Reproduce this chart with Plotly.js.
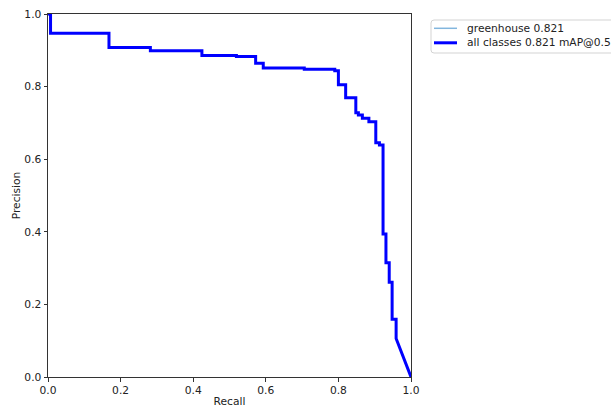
<!DOCTYPE html>
<html>
<head>
<meta charset="utf-8">
<script src="https://cdn.plot.ly/plotly-3.0.1.min.js"></script>
<style>html,body{margin:0;padding:0;background:#fff;}#chart{width:611px;height:408px;}</style>
</head>
<body>
<div id="chart"></div>
<script>
// Step breakpoints of the PR curve: at recall[i] precision drops to precision[i]
const recall = [0, 0.007, 0.168, 0.282, 0.424, 0.519, 0.572, 0.593, 0.706, 0.790, 0.800, 0.820, 0.848, 0.855, 0.866, 0.884, 0.903, 0.913, 0.923, 0.931, 0.940, 0.948, 0.959, 1.0];
const precision = [1.0, 0.947, 0.908, 0.899, 0.886, 0.883, 0.864, 0.851, 0.848, 0.844, 0.805, 0.769, 0.728, 0.722, 0.713, 0.703, 0.645, 0.639, 0.394, 0.315, 0.261, 0.159, 0.106, 0.0];
const seriesNames = ["greenhouse 0.821", "all classes 0.821 mAP@0.5"];
const seriesColors = ["#82b6de", "#0000ff"];
const seriesWidths = [1, 3];
const tickVals = [0, 0.2, 0.4, 0.6, 0.8, 1.0];
const tickText = ["0.0", "0.2", "0.4", "0.6", "0.8", "1.0"];

// build step path
const xs = [recall[0]], ys = [precision[0]];
for (let i = 1; i < recall.length - 1; i++) {
  xs.push(recall[i]); ys.push(precision[i - 1]);
  xs.push(recall[i]); ys.push(precision[i]);
}
xs.push(recall[recall.length - 1]); ys.push(precision[precision.length - 1]);

const font = {family: "DejaVu Sans, sans-serif", size: 10.7, color: "#222"};

const traces = seriesNames.map((n, i) => ({
  x: xs, y: ys, type: "scatter", mode: "lines", name: n,
  line: {color: seriesColors[i], width: seriesWidths[i]}
}));

// plot area geometry (pixels)
const M = {l: 48, r: 200, t: 14, b: 31};
const W = 611, H = 408;
const pw = W - M.l - M.r, ph = H - M.t - M.b;
const px = v => (v - M.l) / pw;         // pixel x -> paper x
const py = v => (H - M.b - v) / ph;     // pixel y -> paper y

// legend box (matplotlib-style, rounded)
const bx0 = 431, bx1 = 640, by0 = 20, by1 = 53, rr = 3;
const legendPath =
  `M ${px(bx0 + rr)},${py(by0)} L ${px(bx1)},${py(by0)} L ${px(bx1)},${py(by1)} ` +
  `L ${px(bx0 + rr)},${py(by1)} Q ${px(bx0)},${py(by1)} ${px(bx0)},${py(by1 - rr)} ` +
  `L ${px(bx0)},${py(by0 + rr)} Q ${px(bx0)},${py(by0)} ${px(bx0 + rr)},${py(by0)} Z`;

const rowY = [28.3, 42.8];
const shapes = [{type: "path", xref: "paper", yref: "paper", path: legendPath,
                 line: {color: "#d3d3d3", width: 1}, fillcolor: "rgba(255,255,255,0.8)"}];
const annotations = [];
seriesNames.forEach((n, i) => {
  shapes.push({type: "line", xref: "paper", yref: "paper",
    x0: px(434), x1: px(457), y0: py(rowY[i]), y1: py(rowY[i]),
    line: {color: seriesColors[i], width: seriesWidths[i] + (i === 0 ? 0.5 : 0)}});
  annotations.push({xref: "paper", yref: "paper", x: px(465), y: py(rowY[i]),
    xanchor: "left", yanchor: "middle", text: n, showarrow: false, font: font});
});

const axisCommon = {
  range: [0, 1], tickvals: tickVals, ticktext: tickText,
  showgrid: false, zeroline: false, showline: true, mirror: true,
  linecolor: "#333", linewidth: 1, ticks: "outside", ticklen: 3.5,
  tickcolor: "#333", tickfont: font, fixedrange: true
};

const layout = {
  width: W, height: H,
  margin: Object.assign({autoexpand: false}, M),
  paper_bgcolor: "#fff", plot_bgcolor: "#fff",
  font: font,
  showlegend: false,
  xaxis: Object.assign({}, axisCommon, {title: {text: "Recall", font: font, standoff: 4}}),
  yaxis: Object.assign({}, axisCommon, {title: {text: "Precision", font: font, standoff: 1}}),
  shapes: shapes,
  annotations: annotations
};

Plotly.newPlot("chart", traces, layout, {staticPlot: true, displayModeBar: false});
</script>
</body>
</html>
